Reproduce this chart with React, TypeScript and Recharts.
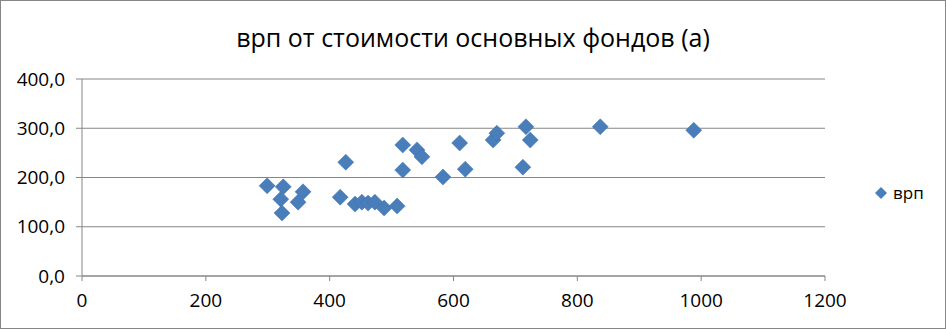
import { ScatterChart, Scatter, XAxis, YAxis, CartesianGrid } from 'recharts';

// стоимость основных фондов (x) и врп (y)
const fondy = [299, 325, 321, 323, 349, 357, 417, 426, 441, 452, 462, 473, 488, 509, 518, 518, 541, 549, 583, 610, 619, 664, 670, 717, 724, 712, 837, 988];
const vrp = [183, 181, 156, 128, 150, 171, 160, 231, 146, 150, 148, 150, 138, 142, 215, 266, 256, 242, 201, 270, 217, 276, 290, 303, 276, 221, 303, 296];

const xTicks = [0, 200, 400, 600, 800, 1000, 1200];
const yTicks = [0, 100, 200, 300, 400];

const points = fondy.map((x, i) => ({ x, y: vrp[i] }));

const FONT = '"Open Sans", "Noto Sans", sans-serif';
const GRID = '#868686';
const BLUE = '#4a7ebb';

const Diamond = (props: any) => {
  const { cx, cy } = props;
  if (cx == null || cy == null) return null;
  const r = 8;
  return (
    <path
      d={`M${cx},${cy - r} L${cx + r},${cy} L${cx},${cy + r} L${cx - r},${cy} Z`}
      fill={BLUE}
      stroke="#3f72ad"
      strokeWidth={0.5}
    />
  );
};

export default function App() {
  return (
    <div style={{ position: 'fixed', left: 0, top: 0, width: 946, height: 329, background: '#fff', fontFamily: FONT }}>
      <div
        style={{
          position: 'absolute',
          left: 0,
          right: 0,
          top: 20,
          textAlign: 'center',
          fontSize: 25,
          lineHeight: '34px',
          color: '#000',
        }}
      >
        врп от стоимости основных фондов (а)
      </div>

      <ScatterChart width={946} height={329} margin={{ top: 79, right: 121, bottom: 0, left: 0 }}>
        <CartesianGrid vertical={false} stroke={GRID} strokeWidth={1} />
        <XAxis
          type="number"
          dataKey="x"
          domain={[0, 1200]}
          ticks={xTicks}
          height={53}
          tickSize={5}
          tickMargin={13}
          stroke={GRID}
          tick={{ fill: '#000', fontSize: 19, fontFamily: FONT }}
          allowDataOverflow
        />
        <YAxis
          type="number"
          dataKey="y"
          domain={[0, 400]}
          ticks={yTicks}
          width={82}
          tickSize={6}
          tickMargin={11}
          stroke={GRID}
          tickFormatter={(v) => v.toFixed(1).replace('.', ',')}
          tick={{ fill: '#000', fontSize: 19, fontFamily: FONT }}
        />
        <Scatter data={points} name="врп" fill={BLUE} shape={Diamond} isAnimationActive={false} />
      </ScatterChart>

      <div style={{ position: 'absolute', left: 874, top: 181, display: 'flex', alignItems: 'center', fontSize: 17, color: '#000' }}>
        <svg width={14} height={14} style={{ marginRight: 5 }}>
          <path d="M7,1 L13,7 L7,13 L1,7 Z" fill={BLUE} />
        </svg>
        <span>врп</span>
      </div>

      <div
        style={{
          position: 'absolute',
          left: 0,
          top: 0,
          width: 946,
          height: 329,
          boxSizing: 'border-box',
          border: `1px solid ${GRID}`,
          pointerEvents: 'none',
        }}
      />
    </div>
  );
}
